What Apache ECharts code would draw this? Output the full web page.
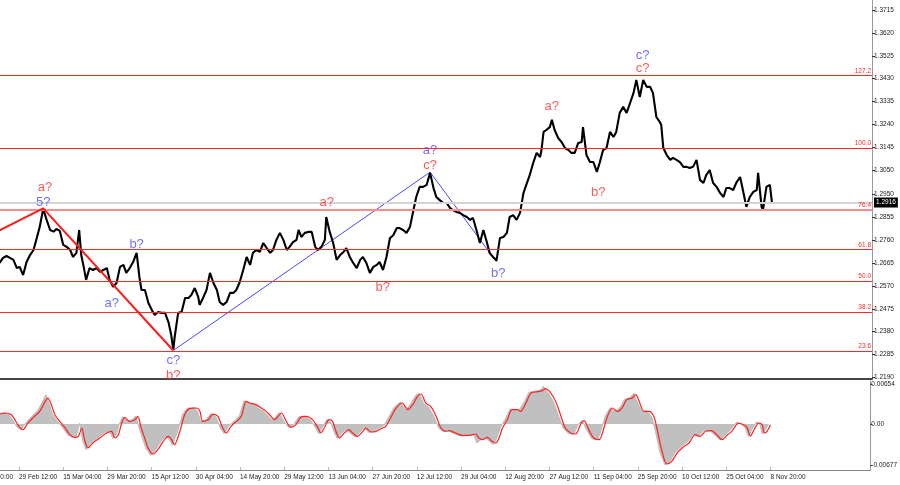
<!DOCTYPE html>
<html><head><meta charset="utf-8">
<script src="https://cdn.jsdelivr.net/npm/echarts@6/dist/echarts.min.js"></script>
<style>html,body{margin:0;padding:0;background:#fff}#c{width:900px;height:485px}</style>
</head><body><div id="c"></div>
<script>
// H4 bar index (0 = 14 Feb 20:00) and close price
const barIdx = [36,41,46,51,56,61,65,70,75,80,85,89,94,99,104,109,114,118,123,128,133,138,142,147,151,154,157,161,166,171,176,181,186,191,195,200,205,210,215,219,224,229,234,238,241,246,251,256,260,265,270,275,280,284,287,289,294,299,304,309,313,318,323,325,330,335,340,345,350,354,359,364,369,374,378,383,388,393,398,402,407,412,417,422,427,431,436,441,446,451,455,460,465,468,472,477,482,487,492,496,501,506,508,513,518,523,528,533,537,542,547,552,557,561,566,571,576,581,585,590,595,600,605,610,614,619,624,629,634,638,643,648,653,658,663,667,672,677,682,687,691,696,701,706,711,716,720,725,730,735,740,744,749,754,759,764,769,773,778,783,788,793,797,802,807,812,817,819,822,826,831,834,838,843,848,853,858,862,867,872,877,879,884,889,894,899,903,908,913,918,923,927,932,937,942,947,952,956,961,966,971,976,980,985,990,992,995,1000,1005,1009,1014,1019,1024,1029,1033,1038,1043,1048,1053,1057,1062,1067,1072,1077,1082,1086,1091,1096,1101,1106,1110,1115,1120,1125,1130,1132,1137,1139,1144,1149,1152];
const closes = [1.2665,1.2686,1.2694,1.2686,1.2678,1.2644,1.2649,1.2615,1.2669,1.2698,1.2719,1.2761,1.2815,1.2889,1.2844,1.2802,1.2795,1.2806,1.2798,1.2740,1.2732,1.2719,1.2690,1.2707,1.2802,1.2698,1.2657,1.2595,1.2644,1.2636,1.2644,1.2628,1.2636,1.2644,1.2595,1.2566,1.2582,1.2649,1.2657,1.2624,1.2644,1.2669,1.2707,1.2607,1.2553,1.2553,1.2499,1.2470,1.2449,1.2462,1.2458,1.2458,1.2420,1.2366,1.2305,1.2358,1.2458,1.2462,1.2520,1.2520,1.2532,1.2561,1.2524,1.2491,1.2520,1.2553,1.2624,1.2582,1.2553,1.2503,1.2491,1.2503,1.2541,1.2541,1.2553,1.2586,1.2636,1.2690,1.2657,1.2707,1.2719,1.2711,1.2748,1.2727,1.2707,1.2719,1.2761,1.2790,1.2761,1.2719,1.2732,1.2752,1.2761,1.2802,1.2773,1.2790,1.2794,1.2794,1.2732,1.2719,1.2732,1.2761,1.2856,1.2794,1.2748,1.2678,1.2698,1.2711,1.2727,1.2690,1.2665,1.2644,1.2678,1.2690,1.2665,1.2624,1.2649,1.2657,1.2669,1.2636,1.2690,1.2768,1.2781,1.2810,1.2810,1.2802,1.2790,1.2815,1.2885,1.2939,1.2981,1.2981,1.2989,1.3039,1.2976,1.2939,1.2926,1.2914,1.2914,1.2893,1.2885,1.2877,1.2873,1.2864,1.2856,1.2844,1.2852,1.2802,1.2748,1.2802,1.2752,1.2707,1.2690,1.2675,1.2769,1.2773,1.2790,1.2856,1.2864,1.2844,1.2873,1.2956,1.2989,1.3030,1.3080,1.3122,1.3105,1.3134,1.3209,1.3217,1.3229,1.3259,1.3217,1.3184,1.3167,1.3142,1.3134,1.3122,1.3122,1.3163,1.3167,1.3229,1.3113,1.3084,1.3084,1.3043,1.3080,1.3134,1.3142,1.3209,1.3188,1.3209,1.3288,1.3313,1.3288,1.3329,1.3371,1.3425,1.3354,1.3425,1.3396,1.3396,1.3371,1.3271,1.3250,1.3238,1.3142,1.3113,1.3093,1.3101,1.3093,1.3084,1.3064,1.3064,1.3059,1.3064,1.3093,1.3010,1.2997,1.3030,1.3051,1.2997,1.2981,1.2956,1.2939,1.2976,1.2976,1.2968,1.3001,1.3022,1.2968,1.2898,1.2939,1.2960,1.2968,1.3039,1.2898,1.2885,1.2981,1.2989,1.2916];

// oscillator: histogram (grey) and signal (red)
const histIdx = [34,43,50,55,62,67,74,82,91,99,103,108,113,120,128,135,142,147,152,156,161,168,178,188,195,200,205,209,214,221,229,233,238,243,248,255,262,270,277,282,286,294,301,308,318,323,327,335,342,349,356,361,368,376,383,390,395,404,412,419,426,431,441,448,455,462,469,477,486,494,498,503,510,515,520,525,532,539,544,551,559,563,571,578,585,592,599,607,616,624,631,638,643,650,657,664,672,679,684,693,703,713,722,727,732,739,746,751,756,761,768,775,783,787,795,802,809,819,823,831,838,845,852,860,867,874,879,886,893,901,905,913,920,927,934,941,949,954,958,966,973,980,985,992,999,1006,1014,1021,1031,1040,1047,1055,1064,1071,1079,1086,1093,1103,1110,1115,1120,1124,1132,1137,1140,1144,1149];
const histVal = [0.00170,0.00188,0.00150,0.00060,-0.00060,-0.00090,0.00020,0.00120,0.00220,0.00390,0.00482,0.00330,0.00150,0.00040,-0.00075,-0.00185,-0.00225,-0.00200,0.00016,-0.00270,-0.00422,-0.00310,-0.00225,-0.00140,-0.00115,-0.00240,-0.00170,-0.00005,0.00120,0.00040,0.00078,0.00135,-0.00070,-0.00240,-0.00405,-0.00515,-0.00420,-0.00280,-0.00195,-0.00265,-0.00350,-0.00110,0.00165,0.00262,0.00272,0.00200,0.00035,0.00080,0.00172,0.00120,-0.00075,-0.00155,-0.00030,0.00050,0.00135,0.00385,0.00350,0.00325,0.00255,0.00200,0.00120,0.00065,0.00190,0.00035,-0.00065,-0.00005,0.00118,0.00132,0.00065,-0.00075,-0.00160,-0.00060,0.00078,0.00040,-0.00130,-0.00240,-0.00140,-0.00085,-0.00155,-0.00215,-0.00115,-0.00060,-0.00140,-0.00115,-0.00070,-0.00030,0.00110,0.00275,0.00361,0.00230,0.00330,0.00470,0.00509,0.00335,0.00280,0.00140,-0.00075,-0.00125,-0.00105,-0.00155,-0.00195,-0.00190,-0.00170,-0.00312,-0.00265,-0.00225,-0.00295,-0.00340,-0.00225,-0.00055,0.00082,0.00245,0.00240,0.00215,0.00355,0.00520,0.00535,0.00560,0.00619,0.00500,0.00360,0.00140,-0.00075,-0.00160,-0.00170,0.00000,0.00060,-0.00100,-0.00240,-0.00265,-0.00170,0.00135,0.00270,0.00200,0.00270,0.00410,0.00435,0.00509,0.00390,0.00200,0.00215,0.00120,-0.00100,-0.00470,-0.00670,-0.00620,-0.00470,-0.00385,-0.00300,-0.00165,-0.00210,-0.00112,-0.00105,-0.00180,-0.00265,-0.00180,-0.00110,0.00030,-0.00005,-0.00060,-0.00210,-0.00110,0.00040,-0.00020,-0.00160,-0.00110,0.00000];
const sigIdx = [37,46,53,58,65,70,77,85,94,102,106,111,116,123,131,138,145,150,155,159,164,171,181,191,198,203,208,212,217,224,232,236,241,246,251,258,265,273,280,285,289,297,304,311,321,326,330,338,345,352,359,364,371,379,386,393,398,407,415,422,429,434,444,451,458,465,472,480,489,497,501,506,513,518,523,528,535,542,547,554,562,566,574,581,588,595,602,610,619,627,634,641,646,653,660,667,675,682,687,696,706,716,725,730,735,742,749,754,759,764,771,778,786,790,798,805,812,822,826,834,841,848,855,863,870,877,882,889,896,904,908,916,923,930,937,944,952,957,961,969,976,983,988,995,1002,1009,1017,1024,1034,1043,1050,1058,1067,1074,1082,1089,1096,1106,1113,1118,1123,1127,1135,1140,1143,1147,1152];
const sigVal = [0.00164,0.00181,0.00153,0.00071,-0.00055,-0.00093,0.00016,0.00110,0.00208,0.00372,0.00427,0.00318,0.00153,0.00044,-0.00066,-0.00175,-0.00219,-0.00203,-0.00066,-0.00257,-0.00394,-0.00312,-0.00230,-0.00148,-0.00120,-0.00230,-0.00175,-0.00011,0.00110,0.00044,0.00071,0.00126,-0.00066,-0.00230,-0.00394,-0.00493,-0.00422,-0.00285,-0.00203,-0.00257,-0.00340,-0.00120,0.00153,0.00252,0.00263,0.00208,0.00044,0.00071,0.00164,0.00126,-0.00066,-0.00148,-0.00038,0.00044,0.00126,0.00372,0.00345,0.00318,0.00263,0.00208,0.00126,0.00071,0.00181,0.00044,-0.00055,-0.00011,0.00110,0.00126,0.00071,-0.00066,-0.00148,-0.00066,0.00071,0.00044,-0.00120,-0.00230,-0.00148,-0.00093,-0.00148,-0.00203,-0.00120,-0.00066,-0.00131,-0.00120,-0.00077,-0.00038,0.00099,0.00263,0.00345,0.00236,0.00318,0.00455,0.00493,0.00345,0.00290,0.00153,-0.00066,-0.00120,-0.00110,-0.00148,-0.00186,-0.00186,-0.00164,-0.00230,-0.00257,-0.00219,-0.00285,-0.00312,-0.00230,-0.00066,0.00071,0.00236,0.00236,0.00208,0.00345,0.00509,0.00526,0.00548,0.00581,0.00509,0.00372,0.00153,-0.00066,-0.00148,-0.00164,-0.00011,0.00055,-0.00093,-0.00230,-0.00257,-0.00175,0.00126,0.00263,0.00208,0.00263,0.00400,0.00427,0.00482,0.00400,0.00208,0.00208,0.00126,-0.00093,-0.00449,-0.00657,-0.00613,-0.00476,-0.00394,-0.00312,-0.00175,-0.00203,-0.00120,-0.00110,-0.00175,-0.00257,-0.00186,-0.00120,0.00016,-0.00011,-0.00055,-0.00203,-0.00120,0.00016,-0.00011,-0.00148,-0.00120,-0.00011];

// wave count lines [bar index, price]
const waveRed = [[30,1.2792],[99,1.2892],[287,1.2302]];
const waveBlue = [[287,1.2302],[658,1.3042],[754,1.2670]];
// wave labels
const waveLabels = [
  {t:'a?', c:'#ff3030', i:101.6, p:1.2979},
  {t:'5?', c:'#4a4aff', i:99.1, p:1.2917},
  {t:'b?', c:'#4a4aff', i:234, p:1.2744},
  {t:'a?', c:'#4a4aff', i:198, p:1.2498},
  {t:'c?', c:'#4a4aff', i:287, p:1.2260},
  {t:'b?', c:'#ff3030', i:287, p:1.2200},
  {t:'a?', c:'#ff3030', i:508.6, p:1.2917},
  {t:'b?', c:'#ff3030', i:589.5, p:1.2563},
  {t:'a?', c:'#4a4aff', i:657.9, p:1.3131},
  {t:'c?', c:'#ff3030', i:658, p:1.3068},
  {t:'b?', c:'#4a4aff', i:756.6, p:1.2622},
  {t:'a?', c:'#ff3030', i:833.7, p:1.3314},
  {t:'b?', c:'#ff3030', i:901, p:1.2957},
  {t:'c?', c:'#4a4aff', i:965.2, p:1.3528},
  {t:'c?', c:'#ff3030', i:965.2, p:1.3473}
];
// Fibonacci levels
const fibNames = ['127.2','100.0','76.4','61.8','50.0','38.2','23.6'];
const fibLevels = [1.3443,1.3143,1.2885,1.2722,1.2591,1.2461,1.2300];
const lastPrice = 1.2916;
// axis ticks
const priceTicks = [1.3715,1.3620,1.3525,1.3430,1.3335,1.3240,1.3145,1.3050,1.2950,1.2855,1.2760,1.2665,1.2570,1.2475,1.2380,1.2285,1.2190];
const oscTicks = [0.00654,0,-0.00677];
const timeLabels = ['14 Feb 20:00','29 Feb 12:00','15 Mar 04:00','29 Mar 20:00','15 Apr 12:00','30 Apr 04:00','14 May 20:00','29 May 12:00','13 Jun 04:00','27 Jun 20:00','12 Jul 12:00','29 Jul 04:00','12 Aug 20:00','27 Aug 12:00','11 Sep 04:00','25 Sep 20:00','10 Oct 12:00','25 Oct 04:00','8 Nov 20:00'];
const barsPerLabel = 64;

const timeTickIdx = timeLabels.map((_, k) => k * barsPerLabel);
const FONT = 'Liberation Sans';
const XMIN = 36.6, XMAX = 1296.55;

const chart = echarts.init(document.getElementById('c'), null, {renderer: 'canvas'});
const fibMarks = fibLevels.map((v, k) => ({
  yAxis: v,
  lineStyle: {color: k === 2 ? '#ff8c8c' : '#ff2a2a', width: k === 2 ? 2 : 1, type: 'solid'},
  label: {show: true, formatter: fibNames[k], position: 'insideEndTop', color: '#ff2a2a', fontSize: 6.5, fontFamily: FONT, distance: 1}
}));
fibMarks.unshift({
  yAxis: lastPrice,
  lineStyle: {color: '#d4d4d4', width: 2, type: 'solid'},
  label: {show: true, formatter: lastPrice.toFixed(4), position: 'end', distance: 2, color: '#fff', backgroundColor: '#000', padding: [2, 2, 1, 2], fontSize: 6.5, fontFamily: FONT}
});

chart.setOption({
  animation: false,
  backgroundColor: '#fff',
  grid: [
    {left: 0, right: 28, top: 0, height: 379},
    {left: 0, right: 28, top: 381, height: 89}
  ],
  xAxis: [
    {type: 'value', gridIndex: 0, min: XMIN, max: XMAX,
     axisLine: {show: true, lineStyle: {color: '#444', width: 2}},
     axisTick: {show: false}, axisLabel: {show: false}, splitLine: {show: false}},
    {type: 'value', gridIndex: 1, min: XMIN, max: XMAX,
     axisLine: {show: true, onZero: false, lineStyle: {color: '#888', width: 1}},
     axisTick: {show: true, inside: true, length: 3, customValues: timeTickIdx.filter(v => v >= XMIN), lineStyle: {color: '#bbb'}},
     axisLabel: {show: true, customValues: timeTickIdx.filter(v => v >= XMIN), align: 'left', margin: 4, fontSize: 6.5, fontFamily: FONT, color: '#222',
       formatter: v => timeLabels[Math.round(v / barsPerLabel)] || ''},
     splitLine: {show: false}}
  ],
  yAxis: [
    {type: 'value', gridIndex: 0, position: 'right', min: 1.21836, max: 1.37565,
     axisLine: {show: true, lineStyle: {color: '#999', width: 1}},
     axisTick: {show: true, length: 3, customValues: priceTicks, lineStyle: {color: '#333'}},
     axisLabel: {show: true, customValues: priceTicks, margin: 2, fontSize: 6.5, fontFamily: FONT, color: '#222', formatter: v => v.toFixed(4)},
     splitLine: {show: false}},
    {type: 'value', gridIndex: 1, position: 'right', min: -0.00756, max: 0.00707,
     axisLine: {show: true, lineStyle: {color: '#999', width: 1}},
     axisTick: {show: true, length: 2, customValues: oscTicks, lineStyle: {color: '#333'}},
     axisLabel: {show: true, customValues: oscTicks, margin: 1, fontSize: 6.5, fontFamily: FONT, color: '#222',
       formatter: v => (Math.abs(v) < 1e-9 ? '0.00' : v.toFixed(5))},
     splitLine: {show: false}}
  ],
  series: [
    {type: 'line', name: 'fib', xAxisIndex: 0, yAxisIndex: 0, data: [], symbol: 'none',
     markLine: {silent: true, precision: 6, symbol: ['none', 'none'], data: fibMarks}},
    {type: 'line', name: 'waveBlue', xAxisIndex: 0, yAxisIndex: 0, data: waveBlue, symbol: 'none',
     lineStyle: {color: '#4848ff', width: 1}, z: 3},
    {type: 'line', name: 'price', xAxisIndex: 0, yAxisIndex: 0, data: barIdx.map((b, k) => [b, closes[k]]),
     symbol: 'none', clip: true, lineStyle: {color: '#000', width: 2.1}, z: 4},
    {type: 'line', name: 'waveRed', xAxisIndex: 0, yAxisIndex: 0, data: waveRed, symbol: 'none', clip: true,
     lineStyle: {color: '#ff1a1a', width: 2}, z: 5},
    {type: 'scatter', name: 'labels', xAxisIndex: 0, yAxisIndex: 0, symbolSize: 0, z: 6, clip: false,
     data: waveLabels.map(o => ({value: [o.i, o.p], label: {show: true, position: 'inside', formatter: o.t, color: o.c, fontSize: 13, fontFamily: FONT}}))},
    {type: 'line', name: 'hist', xAxisIndex: 1, yAxisIndex: 1, data: histIdx.map((b, k) => [b, histVal[k]]), clip: true,
     symbol: 'none', lineStyle: {color: '#bdbdbd', width: 1}, areaStyle: {color: '#c0c0c0', opacity: 1, origin: 0}, z: 2},
    {type: 'line', name: 'signal', xAxisIndex: 1, yAxisIndex: 1, data: sigIdx.map((b, k) => [b, sigVal[k]]),
     symbol: 'none', smooth: 0.3, lineStyle: {color: '#ff2020', width: 1.2}, z: 3}
  ]
});
// first time label, partly off the left edge as in the reference
const x0 = chart.convertToPixel({xAxisIndex: 1}, timeTickIdx[0]);
chart.setOption({graphic: [{type: 'text', x: x0, y: 474, silent: true,
  style: {text: timeLabels[0], font: '6.5px "' + FONT + '"', fill: '#222', textAlign: 'left', textVerticalAlign: 'top'}}]});
</script></body></html>
